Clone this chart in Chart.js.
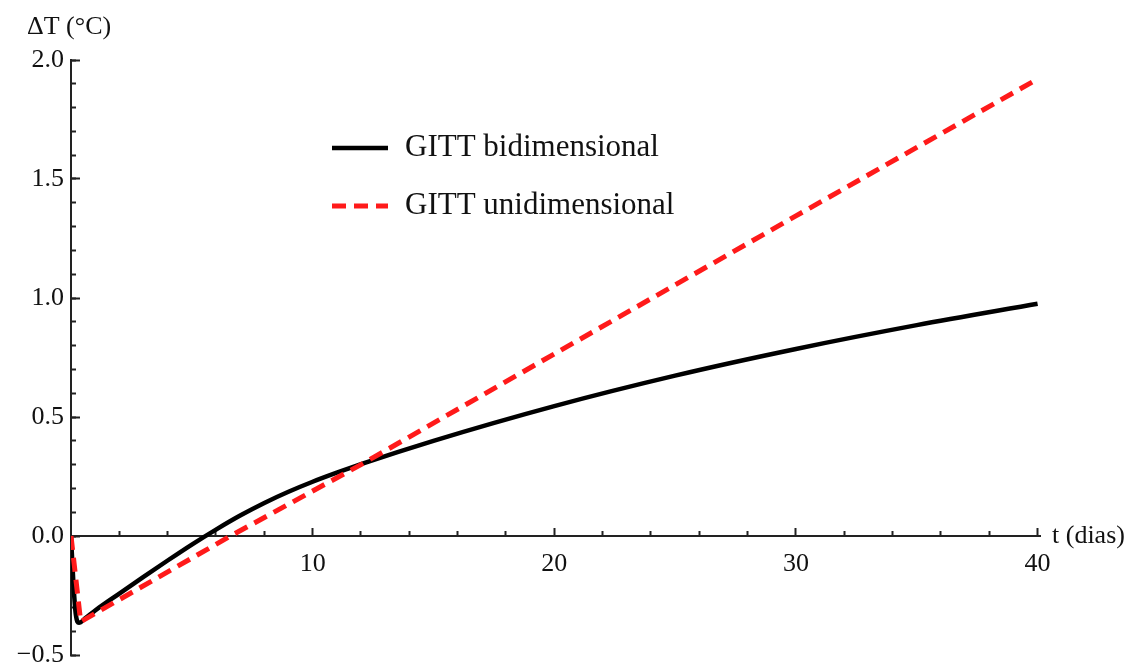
<!DOCTYPE html>
<html>
<head>
<meta charset="utf-8">
<script src="https://cdn.jsdelivr.net/npm/chart.js@4"></script>
<style>
    html, body { margin: 0; padding: 0; background: #fff; }
    #wrap { width: 1147px; height: 668px; }
</style>
</head>
<body>
<div id="wrap"><canvas id="gittChart"></canvas></div>
<script>
// GITT bidimensional (solid black)
const bidim_t = [0, 0.1, 0.2, 0.33, 0.6, 1, 2, 3, 4, 5, 6, 7, 8, 9, 10, 11, 12, 15, 20, 25, 30, 35, 40];
const bidim_dt = [0, -0.2, -0.33, -0.365, -0.345, -0.313, -0.242, -0.172, -0.103, -0.036, 0.027, 0.086, 0.139, 0.186, 0.228, 0.266, 0.302, 0.4, 0.546, 0.674, 0.786, 0.886, 0.976];

// GITT unidimensional (dashed red)
const unidim_t = [0, 0.4, 6.6, 12, 20, 30, 40];
const unidim_dt = [0, -0.36, 0, 0.3, 0.765, 1.345, 1.92];

const x_major_ticks = [10, 20, 30, 40];
const x_minor_ticks = [2, 4, 6, 8, 12, 14, 16, 18, 22, 24, 26, 28, 32, 34, 36, 38];

const x_label = "t (dias)";
const y_label = "\u0394T (\u00B0C)";
const series_labels = ["GITT bidimensional", "GITT unidimensional"];

const font_family = "'Liberation Serif', 'Times New Roman', serif";
const tick_font = { family: font_family, size: 26 };

function toPoints(xs, ys) {
    return xs.map((x, i) => ({ x: x, y: ys[i] }));
}

function formatTick(value) {
    return value.toFixed(1).replace("-", "\u2212");
}

function setTicks(values) {
    return (scale) => {
        scale.ticks = values.map((v) => ({ value: v }));
    };
}

// axis names and the legend, placed like the Mathematica original
const labelsPlugin = {
    id: "labelsPlugin",
    afterDraw(chart) {
        const ctx = chart.ctx;
        const x_scale = chart.scales.x;
        const y_scale = chart.scales.y;
        ctx.save();
        ctx.fillStyle = "#111";
        ctx.textBaseline = "middle";
        ctx.textAlign = "left";
        ctx.font = "26px " + font_family;
        ctx.fillText(y_label, 27, 27);
        ctx.fillText(x_label, x_scale.right + 12, y_scale.getPixelForValue(0));

        ctx.font = "31px " + font_family;
        const rows = [148, 206];
        chart.data.datasets.forEach((ds, i) => {
            const y = rows[i];
            ctx.beginPath();
            ctx.strokeStyle = ds.borderColor;
            ctx.lineWidth = ds.borderWidth;
            ctx.setLineDash(ds.borderDash || []);
            ctx.moveTo(332, y);
            ctx.lineTo(388, y);
            ctx.stroke();
            ctx.setLineDash([]);
            ctx.fillText(ds.label, 405, y);
        });
        ctx.restore();
    },
};

function drawChart() {
    const chart_element = document.getElementById("gittChart");
    new Chart(chart_element, {
        type: "line",
        data: {
            datasets: [
                {
                    label: series_labels[0],
                    data: toPoints(bidim_t, bidim_dt),
                    borderColor: "#000",
                    borderWidth: 4.5,
                    pointRadius: 0,
                    cubicInterpolationMode: "monotone",
                    order: 1,
                },
                {
                    label: series_labels[1],
                    data: toPoints(unidim_t, unidim_dt),
                    borderColor: "#ff1a1a",
                    borderWidth: 5,
                    borderDash: [14, 8],
                    pointRadius: 0,
                    tension: 0,
                    order: 0,
                },
            ],
        },
        options: {
            responsive: true,
            maintainAspectRatio: false,
            animation: false,
            layout: { padding: { left: 0, top: 60, right: 107, bottom: 13 } },
            plugins: {
                legend: { display: false },
                tooltip: { enabled: false },
            },
            scales: {
                x: {
                    type: "linear",
                    min: 0,
                    max: 40.1,
                    position: { y: 0 },
                    border: { display: true, color: "#222", width: 2 },
                    grid: { drawOnChartArea: false, tickLength: -9, tickWidth: 2, tickColor: "#222" },
                    afterBuildTicks: setTicks(x_major_ticks),
                    ticks: {
                        maxRotation: 0,
                        padding: 22,
                        color: "#111",
                        font: tick_font,
                    },
                },
                x2: {
                    type: "linear",
                    axis: "x",
                    min: 0,
                    max: 40.1,
                    position: { y: 0 },
                    border: { display: false },
                    grid: { drawOnChartArea: false, tickLength: -5, tickWidth: 2, tickColor: "#222" },
                    afterBuildTicks: setTicks(x_minor_ticks),
                    ticks: { display: false },
                },
                y: {
                    type: "linear",
                    min: -0.5,
                    max: 2.0,
                    position: "left",
                    weight: 1,
                    border: { display: true, color: "#222", width: 2 },
                    grid: { drawOnChartArea: false, tickLength: -9, tickWidth: 2, tickColor: "#222" },
                    ticks: {
                        stepSize: 0.5,
                        padding: 16,
                        color: "#111",
                        font: tick_font,
                        callback: formatTick,
                    },
                    afterFit: (scale) => {
                        scale.width = 71;
                        scale.paddingTop = 0;
                        scale.paddingBottom = 0;
                    },
                },
                y2: {
                    type: "linear",
                    axis: "y",
                    min: -0.5,
                    max: 2.0,
                    position: "left",
                    weight: 0,
                    border: { display: false },
                    grid: { drawOnChartArea: false, tickLength: -5, tickWidth: 2, tickColor: "#222" },
                    ticks: { stepSize: 0.1, display: false },
                    afterFit: (scale) => {
                        scale.width = 0;
                        scale.paddingTop = 0;
                        scale.paddingBottom = 0;
                    },
                },
            },
        },
        plugins: [labelsPlugin],
    });
}

drawChart();
</script>
</body>
</html>
